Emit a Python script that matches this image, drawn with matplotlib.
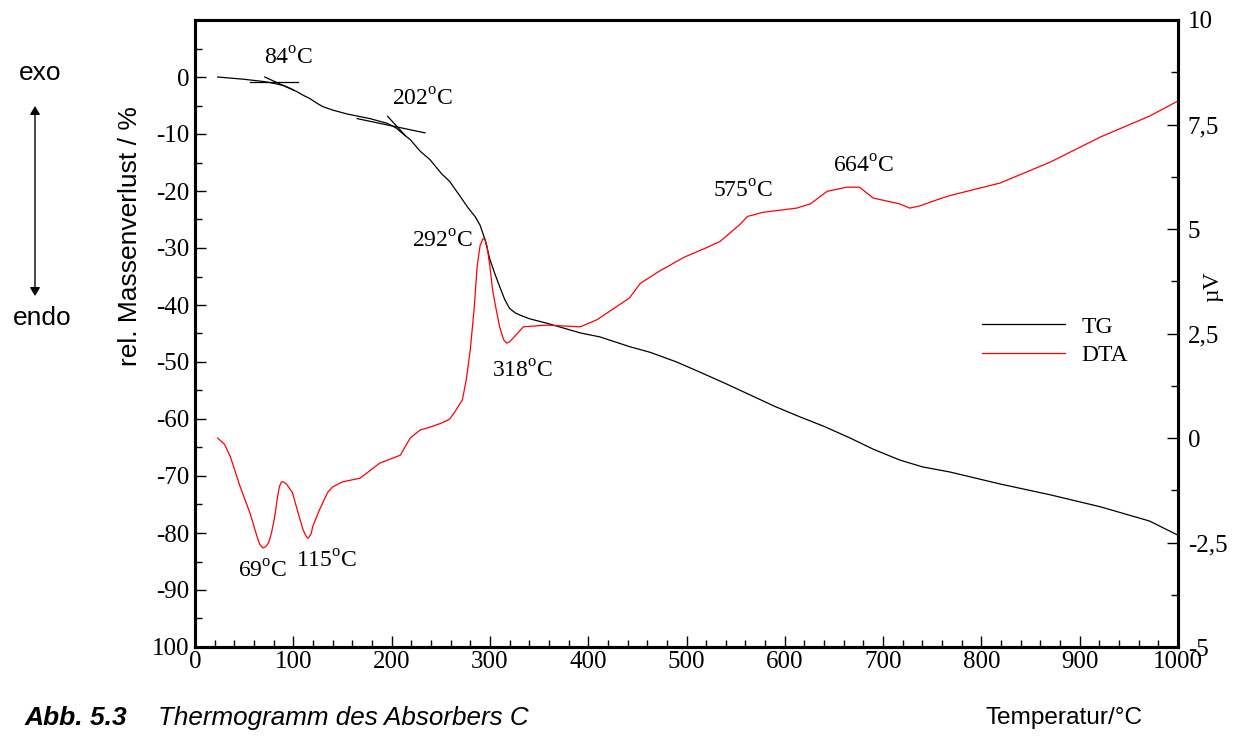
import matplotlib
matplotlib.use("Agg")
import matplotlib.pyplot as plt
from matplotlib.lines import Line2D
from matplotlib.ticker import MultipleLocator, FixedLocator

plt.rcParams['mathtext.fontset'] = 'custom'
plt.rcParams['mathtext.rm'] = 'Liberation Serif'
SERIF = 'Liberation Serif'
SANS = 'Liberation Sans'

# ---- data ----
tg_T = [23, 50, 70, 80, 90, 97, 104, 110, 117, 124, 130, 140, 155, 178, 195, 201, 205, 209,
        214, 219, 229, 239, 251, 259, 270, 278, 285, 290, 295, 300, 305, 310, 315, 320, 326,
        331, 340, 358, 392, 412, 442, 463, 490, 514, 540, 565, 590, 615, 640, 666, 690, 717,
        740, 768, 819, 870, 921, 971, 999]
tg_val = [0.0, -0.4, -0.8, -1.1, -1.5, -2.0, -2.6, -3.2, -3.8, -4.6, -5.2, -5.8, -6.5, -7.3,
          -8.1, -8.6, -9.0, -9.6, -10.3, -11.0, -13.0, -14.5, -17.0, -18.3, -21.0, -23.0,
          -24.5, -26.0, -28.5, -32.0, -34.5, -36.8, -39.0, -40.6, -41.4, -41.8, -42.4, -43.2,
          -44.9, -45.6, -47.3, -48.3, -50.0, -51.8, -53.8, -55.8, -57.8, -59.6, -61.3, -63.3,
          -65.3, -67.2, -68.4, -69.3, -71.4, -73.3, -75.4, -77.9, -80.3]

dta_T = [23, 30, 36, 46, 56, 63, 66, 69, 72, 75, 78, 81, 84, 86, 88, 90, 93, 99, 105, 110,
         113, 115, 118, 120, 127, 135, 140, 150, 168, 188, 209, 214, 219, 229, 239, 250, 259,
         265, 272, 276, 280, 284, 287, 290, 293, 295, 297, 300, 303, 307, 310, 312, 314, 317,
         320, 324, 334, 358, 392, 409, 442, 453, 473, 498, 520, 534, 554, 562, 578, 612, 626,
         643, 663, 676, 690, 717, 727, 737, 755, 768, 819, 870, 921, 971, 999]
dta_val = [0.0, -0.15, -0.45, -1.17, -1.8, -2.35, -2.55, -2.63, -2.6, -2.5, -2.25, -1.9,
           -1.4, -1.15, -1.05, -1.05, -1.1, -1.3, -1.8, -2.2, -2.35, -2.4, -2.3, -2.1, -1.7,
           -1.3, -1.17, -1.05, -0.96, -0.6, -0.41, -0.2, 0.0, 0.19, 0.26, 0.35, 0.45, 0.65,
           0.91, 1.4, 2.1, 3.1, 4.1, 4.6, 4.77, 4.75, 4.6, 4.1, 3.5, 3.0, 2.65, 2.5, 2.35,
           2.27, 2.3, 2.4, 2.66, 2.7, 2.66, 2.83, 3.35, 3.7, 4.0, 4.33, 4.55, 4.7, 5.1, 5.3,
           5.4, 5.5, 5.6, 5.9, 6.0, 6.0, 5.74, 5.6, 5.5, 5.55, 5.7, 5.8, 6.1, 6.6, 7.2, 7.7,
           8.05]

# tangent lines (onset construction) on TG
tan1_T, tan1_val = [56, 105], [-0.8, -0.8]
tan2_T, tan2_val = [71, 100], [0.0, -2.3]
tan3_T, tan3_val = [165, 234], [-7.3, -9.8]
tan4_T, tan4_val = [196, 214], [-6.9, -10.3]

# annotations: (text, T, value)
tg_labels = [("84", 95, 3.3), ("202", 231, -4.0)]
dta_labels = [("292", 252, 4.69), ("318", 333, 1.58), ("575", 557, 5.89),
              ("664", 680, 6.5), ("69", 69, -3.2), ("115", 134, -2.97)]

left_ticks = [0, -10, -20, -30, -40, -50, -60, -70, -80, -90, -100]
left_ticklabels = ["0", "-10", "-20", "-30", "-40", "-50", "-60", "-70", "-80", "-90", "100"]
right_ticks = [10, 7.5, 5, 2.5, 0, -2.5, -5]
right_ticklabels = ["10", "7,5", "5", "2,5", "0", "-2,5", "-5"]
x_ticks = [0, 100, 200, 300, 400, 500, 600, 700, 800, 900, 1000]

# ---- figure ----
W, H = 1247, 738
fig = plt.figure(figsize=(W / 100, H / 100), dpi=100)
ax = fig.add_axes([195 / W, 1 - 647 / H, (1178 - 195) / W, (647 - 20) / H])
ax2 = ax.twinx()

ax.plot(tg_T, tg_val, color='black', lw=0.9)
for tx, ty in [(tan1_T, tan1_val), (tan2_T, tan2_val), (tan3_T, tan3_val), (tan4_T, tan4_val)]:
    ax.plot(tx, ty, color='black', lw=0.9)
ax2.plot(dta_T, dta_val, color='red', lw=0.9)

ax.set_xlim(0, 1000)
ax.set_ylim(-100, 10)
ax2.set_ylim(-5, 10)

ax.xaxis.set_major_locator(FixedLocator(x_ticks))
ax.xaxis.set_minor_locator(MultipleLocator(20))
ax.set_xticklabels([str(v) for v in x_ticks])
ax.yaxis.set_major_locator(FixedLocator(left_ticks))
ax.set_yticklabels(left_ticklabels)
ax.yaxis.set_minor_locator(MultipleLocator(5))
ax2.yaxis.set_major_locator(FixedLocator(right_ticks))
ax2.set_yticklabels(right_ticklabels)
ax2.yaxis.set_minor_locator(MultipleLocator(1.25))

for a in (ax, ax2):
    for s in a.spines.values():
        s.set_linewidth(2.2)

ax.tick_params(axis='both', which='major', direction='in', length=8, width=1.0,
               labelsize=18, pad=4, top=False)
ax.tick_params(axis='both', which='minor', direction='in', length=5, width=1.0, top=False)
ax.tick_params(axis='x', which='both', pad=3)
ax2.tick_params(axis='y', which='major', direction='in', length=8, width=1.0, labelsize=18, pad=7)
ax2.tick_params(axis='y', which='minor', direction='in', length=5, width=1.0)
for lab in ax.get_xticklabels() + ax.get_yticklabels() + ax2.get_yticklabels():
    lab.set_fontfamily(SERIF)

# annotations
for txt, t, v in tg_labels:
    ax.text(t, v, txt + r"$^{\mathrm{o}}$C", fontsize=17, family=SERIF, ha='center', va='center')
for txt, t, v in dta_labels:
    ax2.text(t, v, txt + r"$^{\mathrm{o}}$C", fontsize=17, family=SERIF, ha='center', va='center')

# legend
handles = [Line2D([], [], color='black', lw=0.9), Line2D([], [], color='red', lw=0.9)]
ax2.legend(handles, ["TG", "DTA"], loc='upper left', bbox_to_anchor=(982 / W, 1 - 316 / H),
           bbox_transform=fig.transFigure, frameon=False, borderpad=0, borderaxespad=0,
           handlelength=3.5, handletextpad=0.7, labelspacing=0.3,
           prop={'family': SERIF, 'size': 17})

# axis labels and extra text
fig.text(130 / W, 1 - 236 / H, "rel. Massenverlust / %", rotation=90, ha='center', va='center',
         family=SANS, fontsize=19)
fig.text(1213 / W, 1 - 287 / H, "µV", rotation=90, ha='center', va='center',
         family=SERIF, fontsize=17)
fig.text(40 / W, 1 - 73 / H, "exo", ha='center', va='center', family=SANS, fontsize=19)
fig.text(42 / W, 1 - 318 / H, "endo", ha='center', va='center', family=SANS, fontsize=19)
fig.add_artist(matplotlib.patches.FancyArrowPatch(
    (35 / W, 1 - 296 / H), (35 / W, 1 - 106 / H), transform=fig.transFigure,
    arrowstyle='<|-|>,head_length=5,head_width=3', color='black', lw=1.0,
    shrinkA=0, shrinkB=0))
fig.text(25 / W, 1 - 718 / H, "Abb. 5.3", ha='left', va='center', family=SANS,
         fontsize=19, fontweight='bold', style='italic')
fig.text(158 / W, 1 - 718 / H, "Thermogramm des Absorbers C", ha='left', va='center',
         family=SANS, fontsize=18.7, style='italic')
fig.text(985 / W, 1 - 718 / H, "Temperatur/°C", ha='left', va='center', family=SANS, fontsize=17.6)

fig.savefig("out.png", dpi=100)
